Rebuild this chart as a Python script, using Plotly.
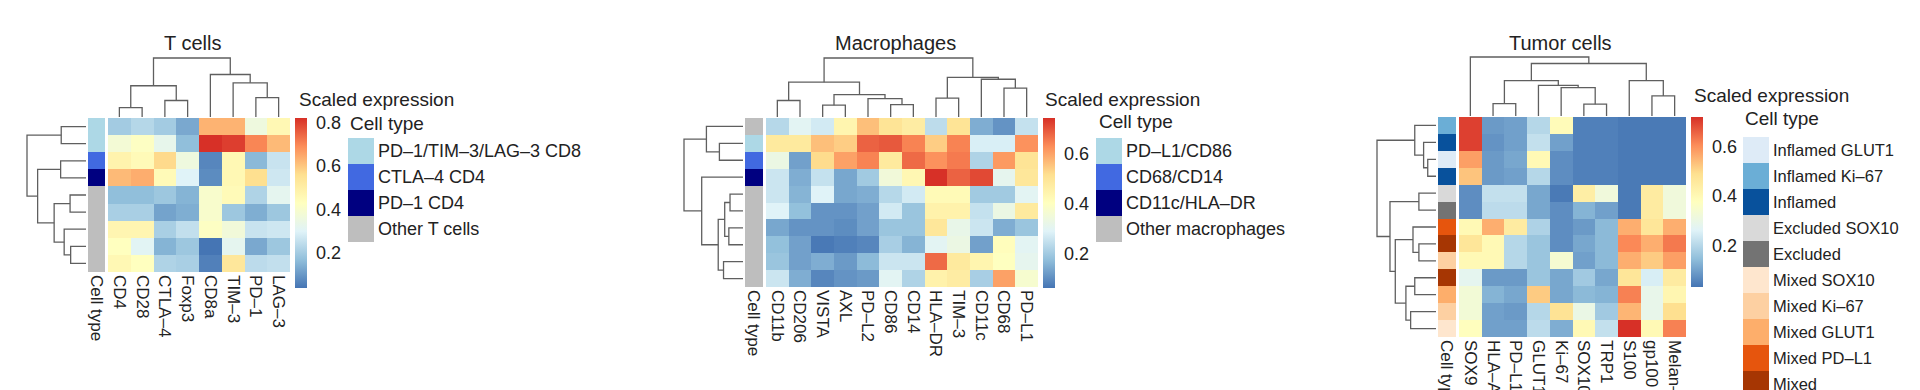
import plotly.graph_objects as go

W, H = 1920, 390
FONT = "Liberation Sans, Arial, sans-serif"
TXT = "#222222"
DENDRO_COLOR = "#5f5f5f"

# ---------------- DATA ----------------
# T cells
T_MARKERS = ["CD4", "CD28", "CTLA–4", "Foxp3", "CD8a", "TIM–3", "PD–1", "LAG–3"]
T_VALUES = [
    [0.20, 0.23, 0.20, 0.13, 0.63, 0.63, 0.36, 0.46],
    [0.38, 0.42, 0.33, 0.17, 0.82, 0.80, 0.70, 0.62],
    [0.48, 0.45, 0.57, 0.36, 0.07, 0.46, 0.16, 0.26],
    [0.62, 0.64, 0.45, 0.30, 0.08, 0.46, 0.56, 0.27],
    [0.17, 0.17, 0.19, 0.15, 0.40, 0.45, 0.22, 0.32],
    [0.21, 0.21, 0.12, 0.14, 0.40, 0.19, 0.14, 0.19],
    [0.47, 0.47, 0.21, 0.25, 0.42, 0.37, 0.26, 0.27],
    [0.43, 0.31, 0.15, 0.19, 0.04, 0.32, 0.13, 0.19],
    [0.46, 0.43, 0.22, 0.21, 0.06, 0.53, 0.24, 0.25],
]
T_TYPES = ["PD–1/TIM–3/LAG–3 CD8", "CTLA–4 CD4", "PD–1 CD4", "Other T cells"]
T_TYPE_COLORS = ["#add8e6", "#4169e1", "#000080", "#bebebe"]
T_ROW_TYPES = ["PD–1/TIM–3/LAG–3 CD8", "PD–1/TIM–3/LAG–3 CD8", "CTLA–4 CD4", "PD–1 CD4",
               "Other T cells", "Other T cells", "Other T cells", "Other T cells", "Other T cells"]
T_ZRANGE = [0.04, 0.82]
T_TICKS = [0.2, 0.4, 0.6, 0.8]
# merges: (child a, child b, height); leaves are 0..n-1 in display order
T_COL_MERGES = [(0, 1, 0.16), (2, 3, 0.28), (8, 9, 0.53), (6, 7, 0.33),
                (5, 11, 0.58), (4, 12, 0.72), (10, 13, 1.0)]
T_ROW_MERGES = [(0, 1, 0.42), (2, 3, 0.43), (4, 5, 0.27), (7, 8, 0.26), (6, 12, 0.37),
                (11, 13, 0.54), (10, 14, 0.82), (9, 15, 1.0)]

# Macrophages
M_MARKERS = ["CD11b", "CD206", "VISTA", "AXL", "PD–L2", "CD86", "CD14",
             "HLA–DR", "TIM–3", "CD11c", "CD68", "PD–L1"]
M_VALUES = [
    [0.23, 0.30, 0.27, 0.44, 0.56, 0.50, 0.47, 0.24, 0.50, 0.15, 0.11, 0.25],
    [0.48, 0.48, 0.56, 0.54, 0.68, 0.69, 0.64, 0.54, 0.64, 0.28, 0.28, 0.62],
    [0.33, 0.13, 0.52, 0.60, 0.64, 0.48, 0.67, 0.62, 0.65, 0.22, 0.61, 0.50],
    [0.26, 0.15, 0.25, 0.14, 0.20, 0.35, 0.43, 0.74, 0.68, 0.71, 0.31, 0.49],
    [0.26, 0.16, 0.29, 0.14, 0.15, 0.23, 0.27, 0.42, 0.42, 0.20, 0.20, 0.30],
    [0.29, 0.18, 0.11, 0.11, 0.13, 0.27, 0.19, 0.45, 0.45, 0.25, 0.33, 0.48],
    [0.14, 0.11, 0.11, 0.10, 0.13, 0.19, 0.19, 0.49, 0.32, 0.26, 0.15, 0.19],
    [0.18, 0.13, 0.07, 0.08, 0.09, 0.21, 0.16, 0.30, 0.33, 0.13, 0.41, 0.30],
    [0.19, 0.13, 0.15, 0.12, 0.17, 0.26, 0.26, 0.67, 0.48, 0.44, 0.40, 0.31],
    [0.26, 0.15, 0.09, 0.11, 0.12, 0.30, 0.22, 0.45, 0.47, 0.21, 0.60, 0.37],
]
M_TYPES = ["PD–L1/CD86", "CD68/CD14", "CD11c/HLA–DR", "Other macrophages"]
M_TYPE_COLORS = ["#add8e6", "#4169e1", "#000080", "#bebebe"]
M_ROW_TYPES = ["Other macrophages", "PD–L1/CD86", "CD68/CD14", "CD11c/HLA–DR",
               "Other macrophages", "Other macrophages", "Other macrophages",
               "Other macrophages", "Other macrophages", "Other macrophages"]
M_ZRANGE = [0.064, 0.74]
M_TICKS = [0.2, 0.4, 0.6]
M_COL_MERGES = [(0, 1, 0.28), (2, 3, 0.20), (5, 6, 0.21), (4, 14, 0.31), (13, 15, 0.38),
                (12, 16, 0.59), (7, 8, 0.32), (10, 11, 0.49), (9, 19, 0.64),
                (18, 20, 0.67), (17, 21, 1.0)]
M_ROW_MERGES = [(1, 2, 0.40), (0, 10, 0.62), (4, 5, 0.22), (6, 7, 0.24), (12, 13, 0.31),
                (8, 9, 0.33), (14, 15, 0.42), (3, 16, 0.70), (11, 17, 1.0)]

# Tumor cells
U_MARKERS = ["SOX9", "HLA–ABC", "PD–L1", "GLUT1", "Ki–67", "SOX10", "TRP1",
             "S100", "gp100", "Melan–A"]
U_VALUES = [
    [0.70, 0.09, 0.10, 0.20, 0.39, 0.05, 0.05, 0.04, 0.04, 0.04],
    [0.70, 0.08, 0.10, 0.22, 0.10, 0.05, 0.05, 0.04, 0.04, 0.04],
    [0.58, 0.09, 0.11, 0.40, 0.07, 0.05, 0.05, 0.04, 0.04, 0.04],
    [0.53, 0.09, 0.10, 0.20, 0.07, 0.05, 0.05, 0.04, 0.04, 0.04],
    [0.07, 0.22, 0.22, 0.11, 0.04, 0.44, 0.32, 0.04, 0.45, 0.32],
    [0.07, 0.21, 0.21, 0.11, 0.07, 0.13, 0.10, 0.04, 0.45, 0.32],
    [0.40, 0.56, 0.45, 0.19, 0.07, 0.09, 0.14, 0.56, 0.47, 0.56],
    [0.47, 0.40, 0.20, 0.16, 0.07, 0.11, 0.14, 0.61, 0.56, 0.63],
    [0.40, 0.40, 0.20, 0.16, 0.34, 0.10, 0.14, 0.56, 0.52, 0.58],
    [0.28, 0.09, 0.09, 0.16, 0.11, 0.17, 0.11, 0.47, 0.25, 0.45],
    [0.33, 0.13, 0.11, 0.52, 0.11, 0.14, 0.13, 0.62, 0.29, 0.41],
    [0.33, 0.10, 0.09, 0.20, 0.48, 0.30, 0.17, 0.55, 0.29, 0.49],
    [0.38, 0.10, 0.10, 0.21, 0.12, 0.40, 0.22, 0.72, 0.40, 0.62],
]
U_TYPES = ["Inflamed GLUT1", "Inflamed Ki–67", "Inflamed", "Excluded SOX10", "Excluded",
           "Mixed SOX10", "Mixed Ki–67", "Mixed GLUT1", "Mixed PD–L1", "Mixed"]
U_TYPE_COLORS = ["#deebf7", "#6baed6", "#08519c", "#d9d9d9", "#737373",
                 "#fee6ce", "#fdd0a2", "#fdae6b", "#e6550d", "#a63603"]
U_ROW_TYPES = ["Inflamed Ki–67", "Inflamed", "Inflamed GLUT1", "Inflamed",
               "Excluded SOX10", "Excluded", "Mixed PD–L1", "Mixed", "Mixed Ki–67",
               "Mixed", "Mixed GLUT1", "Mixed Ki–67", "Mixed SOX10"]
U_ZRANGE = [0.033, 0.72]
U_TICKS = [0.2, 0.4, 0.6]
U_COL_MERGES = [(1, 2, 0.21), (5, 6, 0.20), (4, 11, 0.48), (3, 12, 0.52), (10, 13, 0.60),
                (8, 9, 0.34), (7, 15, 0.60), (14, 16, 0.89), (0, 17, 1.0)]
U_ROW_MERGES = [(2, 3, 0.14), (1, 13, 0.21), (0, 14, 0.36), (4, 5, 0.29), (7, 8, 0.29),
                (6, 17, 0.39), (9, 10, 0.36), (11, 12, 0.43), (19, 20, 0.51),
                (18, 21, 0.69), (16, 22, 0.78), (15, 23, 1.0)]

# ---------------- STYLE / LAYOUT ----------------
HEAT_SCALE = [[0.0, "#4575b4"], [1/6, "#91bfdb"], [2/6, "#e0f3f8"], [3/6, "#ffffbf"],
              [4/6, "#fee090"], [5/6, "#fc8d59"], [1.0, "#d73027"]]

PANELS = [
    dict(title="T cells", markers=T_MARKERS, values=T_VALUES, types=T_TYPES,
         colors=T_TYPE_COLORS, row_types=T_ROW_TYPES, zr=T_ZRANGE, ticks=T_TICKS,
         col_m=T_COL_MERGES, row_m=T_ROW_MERGES, leg_font=18,
         ann_x=(88, 105), heat_x=(108, 290), top=118, bottom=272, root_top=59,
         left_root=27, left_leaf=86, cb_x=295, cb_top=118,
         se=(297, 99), ct=(348, 123), leg_x=(348, 374), leg_top=138, title_x=192),
    dict(title="Macrophages", markers=M_MARKERS, values=M_VALUES, types=M_TYPES,
         colors=M_TYPE_COLORS, row_types=M_ROW_TYPES, zr=M_ZRANGE, ticks=M_TICKS,
         col_m=M_COL_MERGES, row_m=M_ROW_MERGES, leg_font=18,
         ann_x=(745, 763), heat_x=(766, 1038), top=118, bottom=287, root_top=59,
         left_root=684, left_leaf=743, cb_x=1043, cb_top=118,
         se=(1043, 100), ct=(1097, 121), leg_x=(1096, 1122), leg_top=138, title_x=895),
    dict(title="Tumor cells", markers=U_MARKERS, values=U_VALUES, types=U_TYPES,
         colors=U_TYPE_COLORS, row_types=U_ROW_TYPES, zr=U_ZRANGE, ticks=U_TICKS,
         col_m=U_COL_MERGES, row_m=U_ROW_MERGES, leg_font=16.5,
         ann_x=(1438, 1456), heat_x=(1459, 1686), top=117, bottom=337, root_top=58,
         left_root=1377, left_leaf=1436, cb_x=1691, cb_top=117,
         se=(1692, 95), ct=(1743, 118), leg_x=(1743, 1769), leg_top=137, title_x=1560),
]
LEG_BOX = 26
CB_LEN = 170
PAD = 1.03


def xdom(a, b):
    return [max(0.0, a / W), min(1.0, b / W)]


def ydom(top, bottom):
    return [max(0.0, 1 - bottom / H), min(1.0, 1 - top / H)]


def dendro_lines(merges, n):
    pos = [float(i) for i in range(n)]
    hts = [0.0] * n
    a_list, h_list = [], []
    for a, b, h in merges:
        pa, pb = pos[a], pos[b]
        a_list += [pa, pa, pb, pb, None]
        h_list += [hts[a], h, h, hts[b], None]
        pos.append((pa + pb) / 2)
        hts.append(h)
    return a_list, h_list


def discrete_scale(colors):
    k = len(colors)
    sc = []
    for i, c in enumerate(colors):
        sc.append([i / k, c])
        sc.append([(i + 1) / k, c])
    return sc


fig = go.Figure()
layout = dict(template="none", width=W, height=H, margin=dict(l=0, r=0, t=0, b=0, pad=0),
              paper_bgcolor="white", plot_bgcolor="white", showlegend=False,
              font=dict(family=FONT, color=TXT))
annotations = []
ax_i = [0]


def new_axes(xd, yd, xopts=None, yopts=None):
    ax_i[0] += 1
    i = ax_i[0]
    xname = "xaxis" if i == 1 else f"xaxis{i}"
    yname = "yaxis" if i == 1 else f"yaxis{i}"
    xref = "x" if i == 1 else f"x{i}"
    yref = "y" if i == 1 else f"y{i}"
    base = dict(showgrid=False, zeroline=False, showline=False, ticks="",
                showticklabels=False, automargin=False, fixedrange=True,
                ticklabeloverflow="allow")
    xa = dict(base, domain=xd, anchor=yref)
    ya = dict(base, domain=yd, anchor=xref)
    if xopts:
        xa.update(xopts)
    if yopts:
        ya.update(yopts)
    layout[xname] = xa
    layout[yname] = ya
    return xref, yref


for p in PANELS:
    nr = len(p["values"])
    nc = len(p["markers"])
    rows = list(range(nr))
    yrange = [nr - 0.5, -0.5]
    tick_font = dict(family=FONT, size=17, color=TXT)

    # main heatmap
    xr, yr = new_axes(xdom(*p["heat_x"]), ydom(p["top"], p["bottom"]),
                      dict(range=[-0.5, nc - 0.5], showticklabels=True, tickangle=90,
                           tickvals=list(range(nc)), ticktext=p["markers"],
                           tickfont=tick_font, ticklabelstandoff=2),
                      dict(range=yrange))
    fig.add_trace(go.Heatmap(
        z=p["values"], x=list(range(nc)), y=rows, xaxis=xr, yaxis=yr,
        colorscale=HEAT_SCALE, zmin=p["zr"][0], zmax=p["zr"][1],
        colorbar=dict(x=p["cb_x"] / W, xanchor="left", y=1 - p["cb_top"] / H,
                      yanchor="top", len=CB_LEN, lenmode="pixels", thickness=12,
                      thicknessmode="pixels", xpad=0, ypad=0, outlinewidth=0,
                      tickvals=p["ticks"], ticktext=[f"{t:.1f}" for t in p["ticks"]],
                      ticks="outside", ticklen=6, tickcolor="rgba(0,0,0,0)",
                      tickfont=dict(family=FONT, size=18, color=TXT))))

    # annotation column (cell type)
    idx = [p["types"].index(t) for t in p["row_types"]]
    k = len(p["types"])
    xr, yr = new_axes(xdom(*p["ann_x"]), ydom(p["top"], p["bottom"]),
                      dict(range=[-0.5, 0.5], showticklabels=True, tickangle=90,
                           tickvals=[0], ticktext=["Cell type"], tickfont=tick_font,
                           ticklabelstandoff=2),
                      dict(range=yrange))
    fig.add_trace(go.Heatmap(
        z=[[v] for v in idx], x=[0], y=rows, xaxis=xr, yaxis=yr,
        colorscale=discrete_scale(p["colors"]), zmin=-0.5, zmax=k - 0.5,
        showscale=False, hoverinfo="skip"))

    # top dendrogram (columns)
    cx, ch = dendro_lines(p["col_m"], nc)
    span = p["top"] - p["root_top"]
    xr, yr = new_axes(xdom(*p["heat_x"]), ydom(p["top"] - 1 - span * PAD, p["top"] - 1),
                      dict(range=[-0.5, nc - 0.5]), dict(range=[0, PAD]))
    fig.add_trace(go.Scatter(x=cx, y=ch, xaxis=xr, yaxis=yr, mode="lines",
                             line=dict(color=DENDRO_COLOR, width=1.3), hoverinfo="skip"))

    # left dendrogram (rows)
    rx, rh = dendro_lines(p["row_m"], nr)
    lspan = p["left_leaf"] - p["left_root"]
    xr, yr = new_axes(xdom(p["left_leaf"] - lspan * PAD, p["left_leaf"]),
                      ydom(p["top"], p["bottom"]),
                      dict(range=[PAD, 0]), dict(range=yrange))
    fig.add_trace(go.Scatter(x=rh, y=rx, xaxis=xr, yaxis=yr, mode="lines",
                             line=dict(color=DENDRO_COLOR, width=1.3), hoverinfo="skip"))

    # legend for cell types
    leg_bottom = p["leg_top"] + LEG_BOX * k
    vis_bottom = min(leg_bottom, H)
    shown = (vis_bottom - p["leg_top"]) / LEG_BOX
    xr, yr = new_axes(xdom(*p["leg_x"]), ydom(p["leg_top"], vis_bottom),
                      dict(range=[-0.5, 0.5]),
                      dict(range=[shown - 0.5, -0.5], side="right", showticklabels=True,
                           tickvals=list(range(k)), ticktext=p["types"],
                           tickfont=dict(family=FONT, size=p["leg_font"], color=TXT),
                           ticklabelstandoff=3))
    fig.add_trace(go.Heatmap(
        z=[[i] for i in range(k)], x=[0], y=list(range(k)), xaxis=xr, yaxis=yr,
        colorscale=discrete_scale(p["colors"]), zmin=-0.5, zmax=k - 0.5,
        showscale=False, hoverinfo="skip"))

    # texts
    annotations.append(dict(text=p["title"], x=p["title_x"] / W, y=1 - 43 / H,
                            xref="paper", yref="paper", xanchor="center", yanchor="middle",
                            showarrow=False, font=dict(family=FONT, size=20, color=TXT)))
    annotations.append(dict(text="Scaled expression", x=p["se"][0] / W, y=1 - p["se"][1] / H,
                            xref="paper", yref="paper", xanchor="left", yanchor="middle",
                            showarrow=False, font=dict(family=FONT, size=19, color=TXT)))
    annotations.append(dict(text="Cell type", x=p["ct"][0] / W, y=1 - p["ct"][1] / H,
                            xref="paper", yref="paper", xanchor="left", yanchor="middle",
                            showarrow=False, font=dict(family=FONT, size=19, color=TXT)))

layout["annotations"] = annotations
fig.update_layout(**layout)
fig.write_html("out.html", config={"displayModeBar": False},
               post_script="document.body.style.margin='0px';"
                           "document.body.style.overflow='hidden';")
